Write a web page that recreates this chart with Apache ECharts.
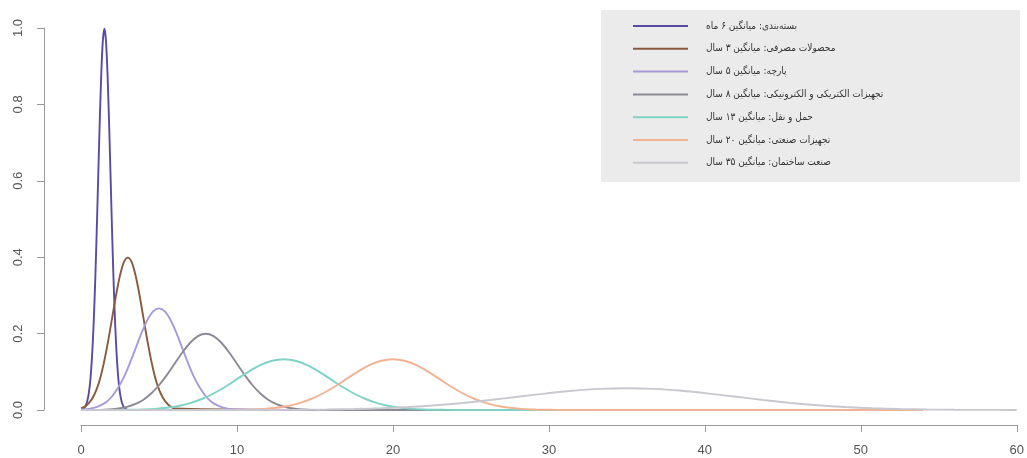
<!DOCTYPE html>
<html>
<head>
<meta charset="utf-8">
<script src="https://cdn.jsdelivr.net/npm/echarts@6/dist/echarts.min.js"></script>
<style>
  html, body { margin: 0; padding: 0; background: #ffffff; }
  #chart { width: 1027px; height: 458px; }
</style>
</head>
<body>
<div id="chart"></div>
<script>
// Lifetime distributions of product groups (density vs. years)
const seriesNames = [
  'بسته‌بندی: میانگین ۶ ماه',
  'محصولات مصرفی: میانگین ۳ سال',
  'پارچه: میانگین ۵ سال',
  'تجهیزات الکتریکی و الکترونیکی: میانگین ۸ سال',
  'حمل و نقل: میانگین ۱۳ سال',
  'تجهیزات صنعتی: میانگین ۲۰ سال',
  'صنعت ساختمان: میانگین ۳۵ سال'
];

const seriesColors = ['#5a4aa6', '#8a5a3e', '#a89ad8', '#8c8a94', '#7fd3c4', '#f1b394', '#c8c8cf'];

const xTicks = [0, 10, 20, 30, 40, 50, 60];
const yTicks = [0, 0.2, 0.4, 0.6, 0.8, 1.0];

// packaging
const packagingX = [0, 0.1, 0.2, 0.3, 0.4, 0.5, 0.6, 0.7, 0.8, 0.9, 1.0, 1.1, 1.2, 1.3, 1.4, 1.5,
  1.6, 1.7, 1.8, 1.9, 2.0, 2.1, 2.2, 2.3, 2.4, 2.5, 2.6, 2.7, 2.8, 2.9, 3.0, 10];
const packagingY = [0.001, 0.002, 0.005, 0.011, 0.023, 0.044, 0.079, 0.135, 0.216, 0.324, 0.457, 0.605, 0.753, 0.880, 0.967, 0.998,
  0.967, 0.880, 0.753, 0.605, 0.457, 0.324, 0.216, 0.135, 0.079, 0.044, 0.023, 0.011, 0.005, 0.002, 0.001, 0];

// consumer products
const consumerX = [0, 0.25, 0.5, 0.75, 1.0, 1.25, 1.5, 1.75, 2.0, 2.25, 2.5, 2.75, 3.0,
  3.25, 3.5, 3.75, 4.0, 4.25, 4.5, 4.75, 5.0, 5.25, 5.5, 5.75, 6.0, 12];
const consumerY = [0.004, 0.009, 0.018, 0.032, 0.054, 0.086, 0.130, 0.183, 0.242, 0.301, 0.352, 0.387, 0.399,
  0.387, 0.352, 0.301, 0.242, 0.183, 0.130, 0.086, 0.054, 0.032, 0.018, 0.009, 0.004, 0];

// textiles
const textileX = [0, 0.5, 0.875, 1.25, 1.625, 2.0, 2.375, 2.75, 3.125, 3.5, 3.875, 4.25, 4.625, 5.0,
  5.375, 5.75, 6.125, 6.5, 6.875, 7.25, 7.625, 8.0, 8.375, 8.75, 9.125, 9.5, 15];
const textileY = [0.001, 0.003, 0.006, 0.012, 0.021, 0.036, 0.058, 0.086, 0.122, 0.161, 0.201, 0.235, 0.258, 0.266,
  0.258, 0.235, 0.201, 0.161, 0.122, 0.086, 0.058, 0.036, 0.021, 0.012, 0.006, 0.003, 0];

// electrical and electronic equipment
const electronicsX = [0, 0.5, 1.0, 1.5, 2.0, 2.5, 3.0, 3.5, 4.0, 4.5, 5.0, 5.5, 6.0, 6.5, 7.0, 7.5, 8.0,
  8.5, 9.0, 9.5, 10.0, 10.5, 11.0, 11.5, 12.0, 12.5, 13.0, 13.5, 14.0, 14.5, 15.0, 15.5, 16.0, 28];
const electronicsY = [0.0001, 0.0002, 0.0004, 0.0010, 0.0022, 0.0045, 0.0088, 0.0159, 0.0270, 0.0431, 0.0648, 0.0913, 0.1210, 0.1506, 0.1760, 0.1933, 0.1995,
  0.1933, 0.1760, 0.1506, 0.1210, 0.0913, 0.0648, 0.0431, 0.0270, 0.0159, 0.0088, 0.0045, 0.0022, 0.0010, 0.0004, 0.0002, 0.0001, 0];

// transport
const transportX = [0, 1, 1.75, 2.5, 3.25, 4, 4.75, 5.5, 6.25, 7, 7.75, 8.5, 9.25, 10, 10.75, 11.5, 12.25, 13,
  13.75, 14.5, 15.25, 16, 16.75, 17.5, 18.25, 19, 19.75, 20.5, 21.25, 22, 22.75, 23.5, 24.25, 25, 40];
const transportY = [0, 0.0000, 0.0001, 0.0003, 0.0007, 0.0015, 0.0030, 0.0058, 0.0106, 0.0180, 0.0288, 0.0432, 0.0609, 0.0807, 0.1004, 0.1174, 0.1289, 0.1330,
  0.1289, 0.1174, 0.1004, 0.0807, 0.0609, 0.0432, 0.0288, 0.0180, 0.0106, 0.0058, 0.0030, 0.0015, 0.0007, 0.0003, 0.0001, 0.0000, 0];

// industrial equipment
const industrialX = [0, 8, 8.75, 9.5, 10.25, 11, 11.75, 12.5, 13.25, 14, 14.75, 15.5, 16.25, 17, 17.75, 18.5, 19.25, 20,
  20.75, 21.5, 22.25, 23, 23.75, 24.5, 25.25, 26, 26.75, 27.5, 28.25, 29, 29.75, 30.5, 31.25, 32, 54];
const industrialY = [0, 0.0000, 0.0001, 0.0003, 0.0007, 0.0015, 0.0030, 0.0058, 0.0106, 0.0180, 0.0288, 0.0432, 0.0609, 0.0807, 0.1004, 0.1174, 0.1289, 0.1330,
  0.1289, 0.1174, 0.1004, 0.0807, 0.0609, 0.0432, 0.0288, 0.0180, 0.0106, 0.0058, 0.0030, 0.0015, 0.0007, 0.0003, 0.0001, 0.0000, 0];

// building construction
const constructionX = [0, 7, 8.75, 10.5, 12.25, 14, 15.75, 17.5, 19.25, 21, 22.75, 24.5, 26.25, 28, 29.75, 31.5, 33.25, 35,
  36.75, 38.5, 40.25, 42, 43.75, 45.5, 47.25, 49, 50.75, 52.5, 54.25, 56, 57.75, 59.5, 60];
const constructionY = [0, 0.0000, 0.0001, 0.0001, 0.0003, 0.0006, 0.0013, 0.0025, 0.0045, 0.0077, 0.0123, 0.0185, 0.0261, 0.0346, 0.0430, 0.0503, 0.0552, 0.0570,
  0.0552, 0.0503, 0.0430, 0.0346, 0.0261, 0.0185, 0.0123, 0.0077, 0.0045, 0.0025, 0.0013, 0.0006, 0.0003, 0.0001, 0];

const curveXs = [packagingX, consumerX, textileX, electronicsX, transportX, industrialX, constructionX];
const curveYs = [packagingY, consumerY, textileY, electronicsY, transportY, industrialY, constructionY];

function pairs(xs, ys) {
  return xs.map((x, i) => [x, ys[i]]);
}

const chart = echarts.init(document.getElementById('chart'), null, { renderer: 'canvas' });

const series = seriesNames.map((name, i) => ({
  name: name,
  type: 'line',
  data: pairs(curveXs[i], curveYs[i]),
  smooth: 0.3,
  showSymbol: false,
  symbol: 'none',
  clip: false,
  lineStyle: { color: seriesColors[i], width: 1.9 },
  itemStyle: { color: seriesColors[i] },
  emphasis: { disabled: true },
  z: 2 + i
}));

const axisGray = '#9a9a9a';
const labelGray = '#555555';

chart.setOption({
  animation: false,
  backgroundColor: '#ffffff',
  grid: { left: 81, right: 6, top: 28, bottom: 48, containLabel: false },
  xAxis: {
    type: 'value',
    min: xTicks[0],
    max: xTicks[xTicks.length - 1],
    interval: 10,
    offset: 15,
    axisLine: { show: true, onZero: false, lineStyle: { color: axisGray, width: 1 } },
    axisTick: { show: true, length: 7, lineStyle: { color: axisGray } },
    axisLabel: { margin: 19, fontFamily: 'Liberation Sans', fontSize: 13, color: labelGray },
    splitLine: { show: false }
  },
  yAxis: {
    type: 'value',
    min: yTicks[0],
    max: yTicks[yTicks.length - 1],
    interval: 0.2,
    offset: 37,
    axisLine: { show: true, onZero: false, lineStyle: { color: axisGray, width: 1 } },
    axisTick: { show: true, length: 7, lineStyle: { color: axisGray } },
    axisLabel: {
      rotate: 90, margin: 19, fontFamily: 'Liberation Sans', fontSize: 13, color: labelGray,
      formatter: v => v.toFixed(1)
    },
    splitLine: { show: false }
  },
  graphic: [{
    type: 'rect',
    z: 0,
    silent: true,
    shape: { x: 601, y: 10, width: 419, height: 172 },
    style: { fill: '#ebebeb' }
  }],
  legend: {
    orient: 'vertical',
    left: 633,
    top: 19,
    padding: 0,
    icon: 'rect',
    itemWidth: 55,
    itemHeight: 2,
    itemGap: 8.8,
    z: 10,
    selectedMode: false,
    textStyle: { fontFamily: 'DejaVu Sans Condensed', fontSize: 10, color: '#333333', lineHeight: 14, padding: [0, 0, 0, 13] },
    data: seriesNames
  },
  series: series
});
</script>
</body>
</html>
